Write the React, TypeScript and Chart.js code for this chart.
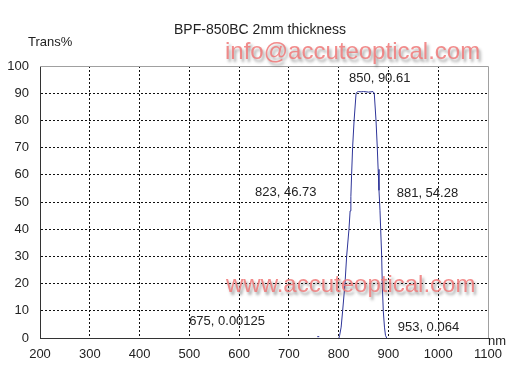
import React, { useEffect, useRef } from "react";
import { Chart, registerables } from "chart.js";

Chart.register(...registerables);

const titleText = "BPF-850BC 2mm thickness";
const yAxisTitle = "Trans%";
const xAxisTitle = "nm";
const watermarks = ["info@accuteoptical.com", "www.accuteoptical.com"];

// x tick range (nm) and y tick range (%)
const xMin = 200;
const xMax = 1100;
const xStep = 100;
const yMin = 0;
const yMax = 100;
const yStep = 10;

// Transmission curve
const wavelengths = [
  757, 761, 762,
  800.5, 802, 805, 808, 812.7, 816, 820.7, 823, 824.5, 826, 828, 831, 835, 838, 840, 845,
  850, 855, 860, 865, 869, 871.5, 875, 877.6, 879.3, 881, 883, 884.4, 886.4, 887.6, 889.6,
  892, 894, 896.5,
];
const transmission = [
  0.5, 0.5, null,
  0, 1, 4, 10, 20, 30, 40, 46.73, 52, 60, 70, 80, 90, 90.5, 90.6, 90.5,
  90.61, 90.5, 90.4, 90.5, 90.6, 90, 80, 70, 62, 54.28, 47, 40, 30, 20, 10,
  4, 1, 0,
];

// Point annotations: text and its anchor (left edge, vertical middle) in data units
const annotationTexts = ["850, 90.61", "823, 46.73", "881, 54.28", "675, 0.00125", "953, 0.064"];
const annotationX = [820.7, 632, 916.6, 499.6, 918.6];
const annotationY = [95.6, 53.4, 53.3, 6.0, 4.0];

const FONT = '"Liberation Sans", Arial, sans-serif';

export default function App() {
  const ref = useRef<HTMLCanvasElement | null>(null);

  useEffect(() => {
    document.body.style.margin = "0";
    const canvas = ref.current;
    if (!canvas) return;

    const points = wavelengths.map((w, i) => ({ x: w, y: transmission[i] as any }));

    const decor = {
      id: "decor",
      beforeDatasetsDraw(chart: any) {
        const { ctx, chartArea } = chart;
        ctx.save();
        ctx.strokeStyle = "#a0a0a0";
        ctx.lineWidth = 1;
        ctx.beginPath();
        ctx.moveTo(chartArea.left, Math.round(chartArea.top) + 0.5);
        ctx.lineTo(chartArea.right + 0.5, Math.round(chartArea.top) + 0.5);
        ctx.lineTo(Math.round(chartArea.right) + 0.5, chartArea.bottom);
        ctx.stroke();
        ctx.restore();
      },
      afterDraw(chart: any) {
        const { ctx, chartArea } = chart;
        const xs = chart.scales.x;
        const ys = chart.scales.y;
        ctx.save();
        ctx.fillStyle = "#222";
        ctx.textBaseline = "middle";
        // title
        ctx.font = `14px ${FONT}`;
        ctx.textAlign = "center";
        ctx.fillText(titleText, 260, 30);
        // axis titles
        ctx.font = `13px ${FONT}`;
        ctx.textAlign = "left";
        ctx.fillText(yAxisTitle, 28, 42);
        ctx.fillText(xAxisTitle, chartArea.right, chartArea.bottom + 3);
        // annotations
        annotationTexts.forEach((t, i) => {
          ctx.fillText(t, xs.getPixelForValue(annotationX[i]), ys.getPixelForValue(annotationY[i]));
        });
        // watermarks
        ctx.font = `24px ${FONT}`;
        ctx.shadowColor = "rgba(60,60,60,0.55)";
        ctx.shadowBlur = 3;
        ctx.shadowOffsetX = 2;
        ctx.shadowOffsetY = 3;
        ctx.fillStyle = "rgba(240,120,120,0.85)";
        ctx.fillText(watermarks[0], 225, 52);
        ctx.fillText(watermarks[1], 226, 285);
        ctx.restore();
      },
    };

    const edgeX = (v: number) => v === xMin || v === xMax;
    const edgeY = (v: number) => v === yMin || v === yMax;

    const chart = new Chart(canvas, {
      type: "line",
      data: {
        datasets: [
          {
            data: points,
            borderColor: "#2e3599",
            borderWidth: 1,
            pointRadius: 0,
            tension: 0,
            spanGaps: false,
            fill: false,
          },
        ],
      },
      options: {
        animation: false,
        responsive: false,
        devicePixelRatio: 1,
        parsing: false as any,
        layout: { padding: { left: 0, right: 32, top: 66, bottom: 0 } },
        plugins: { legend: { display: false }, tooltip: { enabled: false }, title: { display: false } },
        scales: {
          x: {
            type: "linear",
            min: xMin,
            max: xMax,
            ticks: {
              stepSize: xStep,
              color: "#222",
              font: { family: FONT, size: 13 },
              padding: 9,
              maxRotation: 0,
              callback: (v: any) => String(v),
            },
            grid: {
              drawTicks: false,
              color: (c: any) => (edgeX(c.tick?.value) ? "rgba(0,0,0,0)" : "#111"),
              lineWidth: 1,
            },
            border: { display: true, color: "#333", width: 1, dash: [2, 2] as any },
            afterFit: (s: any) => {
              s.height = 37;
            },
          } as any,
          y: {
            type: "linear",
            min: yMin,
            max: yMax,
            ticks: {
              stepSize: yStep,
              color: "#222",
              font: { family: FONT, size: 13 },
              padding: 11,
              callback: (v: any) => String(v),
            },
            grid: {
              drawTicks: false,
              color: (c: any) => (edgeY(c.tick?.value) ? "rgba(0,0,0,0)" : "#111"),
              lineWidth: 1,
            },
            border: { display: true, color: "#333", width: 1, dash: [2, 2] as any },
            afterFit: (s: any) => {
              s.width = 40;
            },
          } as any,
        },
      },
      plugins: [decor],
    });

    return () => chart.destroy();
  }, []);

  return (
    <div style={{ position: "absolute", left: 0, top: 0, width: 520, height: 375, background: "#fff" }}>
      <canvas ref={ref} width={520} height={375} />
    </div>
  );
}
